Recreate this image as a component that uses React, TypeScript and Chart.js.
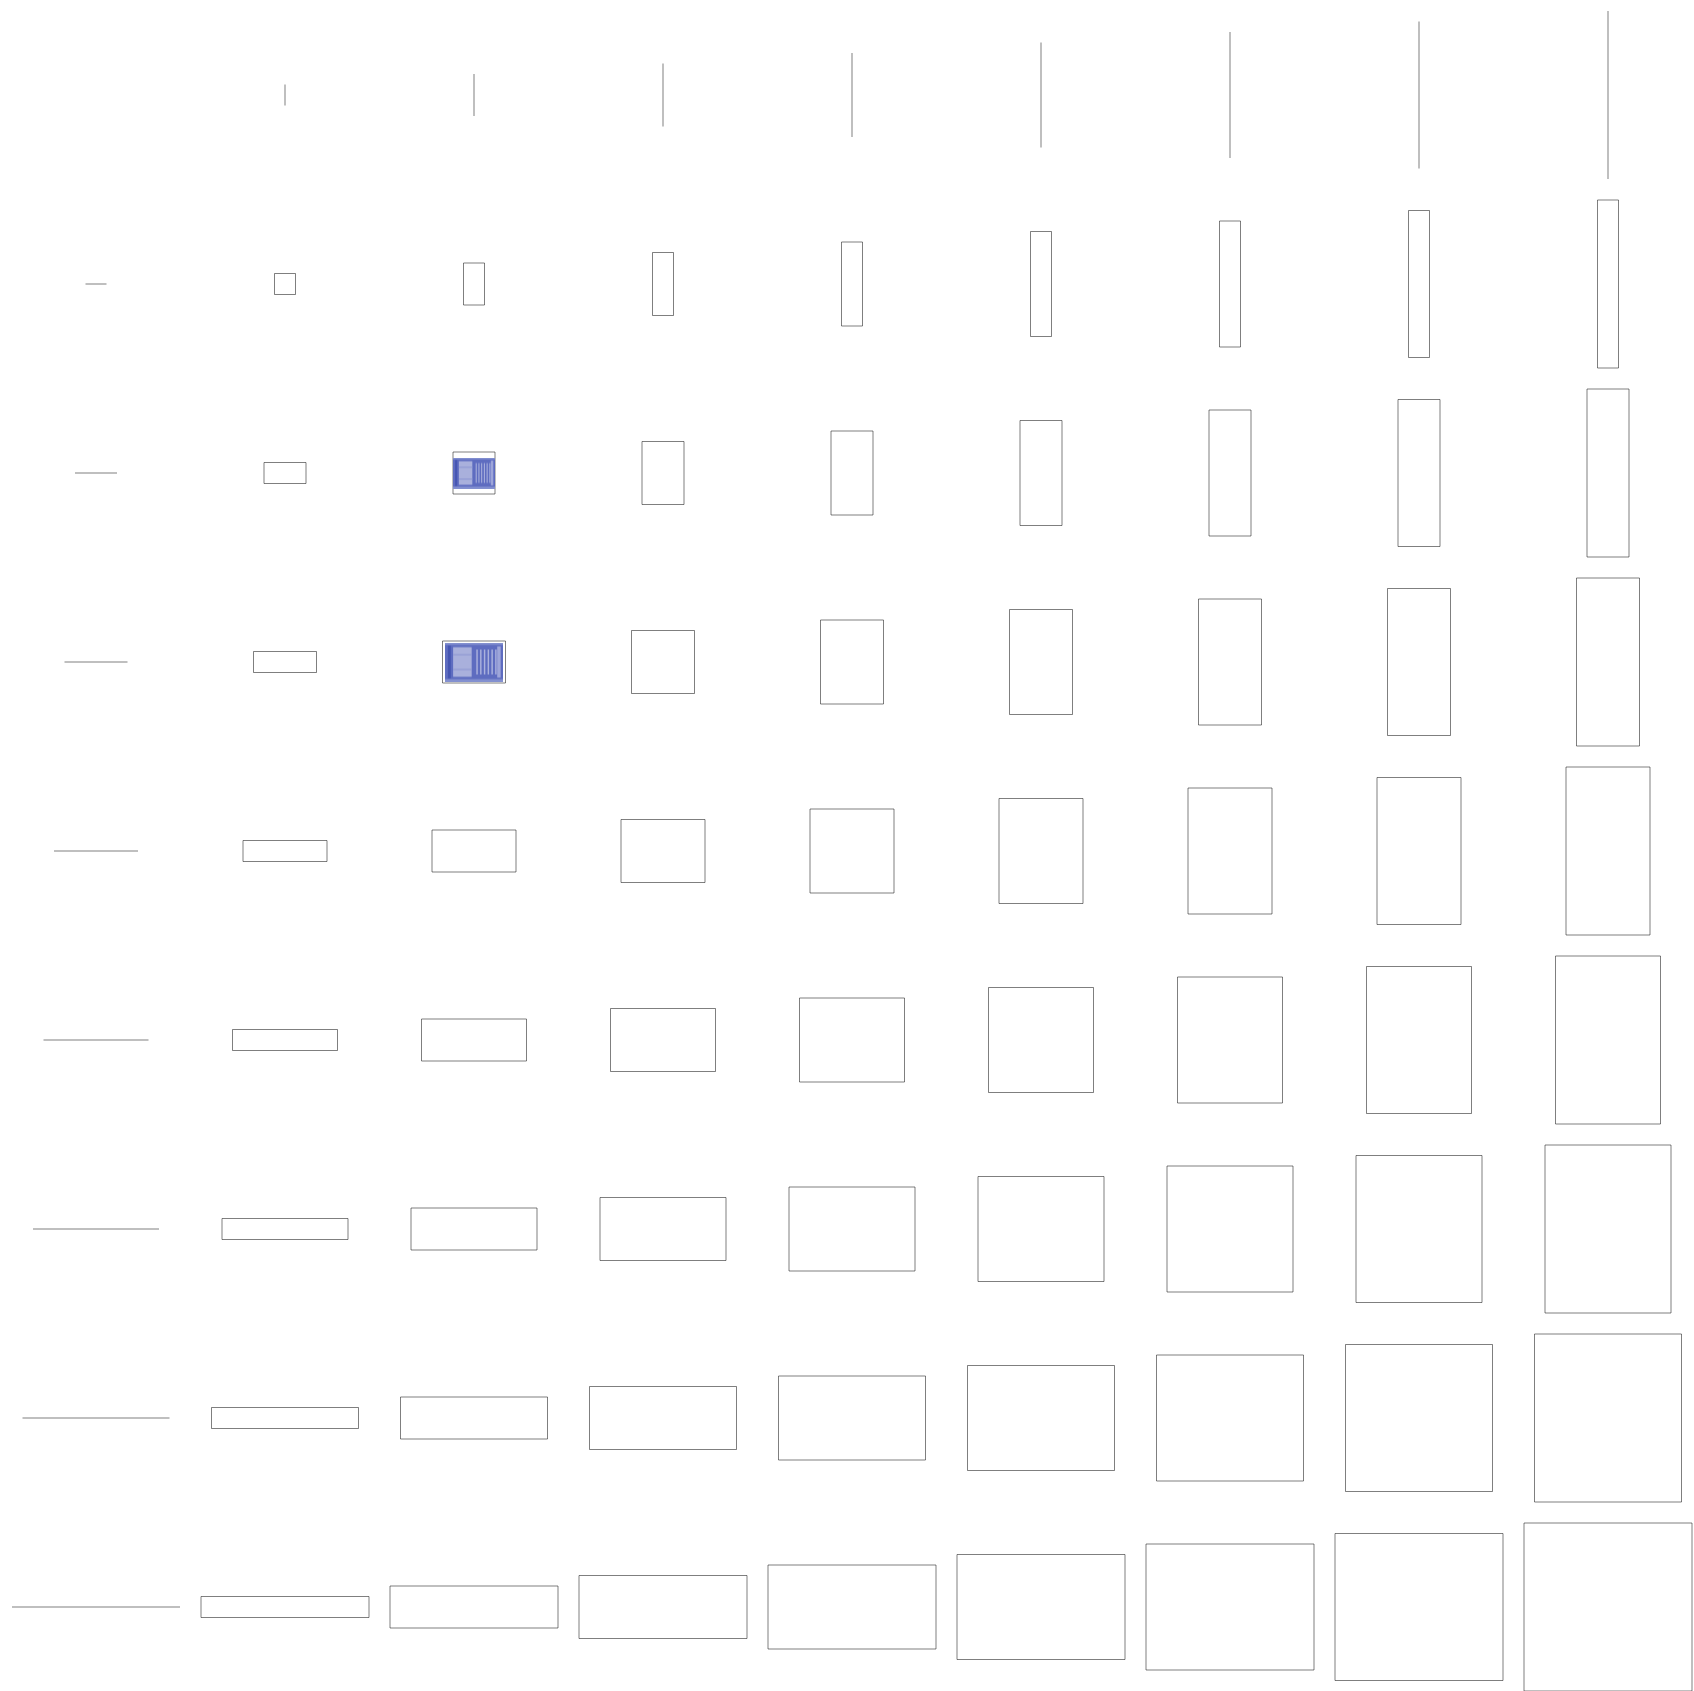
import React, { useEffect, useRef } from 'react';
import { Chart, registerables } from 'chart.js';

Chart.register(...registerables);

// Grid positions (column index along x, row index along y)
const gridColumns = [0, 1, 2, 3, 4, 5, 6, 7, 8];
const gridRows = [0, 1, 2, 3, 4, 5, 6, 7, 8];
// Box height level for each column, box width level for each row
const columnHeightSteps = [0, 1, 2, 3, 4, 5, 6, 7, 8];
const rowWidthSteps = [0, 1, 2, 3, 4, 5, 6, 7, 8];
// Cells that also carry an image marker
const imageCellColumns = [2, 2];
const imageCellRows = [2, 3];

// ---- styles ----
const STEP_PX = 21;
const CELL_PX = 189;
const OFFSET_X_PX = 96;
const OFFSET_Y_PX = 95;
const CANVAS_PX = 1701;
const STROKE = 'rgba(0,0,0,0.5)';
const LINE_FILL = 'rgba(0,0,0,0.25)';
const IMAGE_SIZES: [number, number][] = [
  [42, 31],
  [58, 39],
];

function makeRectStyle(w: number, h: number): HTMLCanvasElement {
  const W = w % 2 === 0 ? w + 2 : w + 3;
  const H = h % 2 === 0 ? h + 2 : h + 3;
  const c = document.createElement('canvas');
  c.width = W;
  c.height = H;
  const ctx = c.getContext('2d')!;
  if (w > 0 && h > 0) {
    ctx.strokeStyle = STROKE;
    ctx.lineWidth = 1;
    ctx.beginPath();
    ctx.rect(W / 2 - w / 2, H / 2 - h / 2, w, h);
    ctx.stroke();
  } else if (w === 0 && h > 0) {
    ctx.fillStyle = LINE_FILL;
    ctx.fillRect(W / 2 - 1, H / 2 - h / 2, 2, h);
  } else if (h === 0 && w > 0) {
    ctx.fillStyle = LINE_FILL;
    ctx.fillRect(W / 2 - w / 2, H / 2 - 1, w, 2);
  }
  return c;
}

function makeImageStyle(w: number, h: number): HTMLCanvasElement {
  const c = document.createElement('canvas');
  c.width = w;
  c.height = h;
  const ctx = c.getContext('2d')!;
  ctx.fillStyle = '#5e6cc0';
  ctx.fillRect(0, 0, w, h);
  ctx.fillStyle = '#8390d0';
  ctx.fillRect(0, 0, w, Math.max(1, h * 0.06));
  ctx.fillRect(0, h - Math.max(1, h * 0.06), w, Math.max(1, h * 0.06));
  // left panel
  ctx.fillStyle = '#a9b0dc';
  ctx.fillRect(w * 0.14, h * 0.12, w * 0.32, h * 0.76);
  ctx.fillStyle = '#8c95d2';
  ctx.fillRect(w * 0.14, h * 0.3, w * 0.32, 1);
  ctx.fillRect(w * 0.14, h * 0.68, w * 0.32, 1);
  ctx.fillStyle = '#4656b2';
  ctx.fillRect(w * 0.05, h * 0.08, Math.max(1, w * 0.05), h * 0.84);
  // right stripes
  ctx.fillStyle = '#aab1dd';
  for (let i = 0; i < 6; i++) {
    ctx.fillRect(w * (0.54 + i * 0.065), h * 0.18, Math.max(1, w * 0.025), h * 0.64);
  }
  ctx.fillStyle = '#9ea6da';
  ctx.fillRect(w * 0.9, h * 0.1, w * 0.06, h * 0.8);
  return c;
}

export default function App() {
  const canvasRef = useRef<HTMLCanvasElement | null>(null);

  useEffect(() => {
    if (!canvasRef.current) return;

    const boxPoints: { x: number; y: number }[] = [];
    const boxStyles: HTMLCanvasElement[] = [];
    gridRows.forEach((r, ri) => {
      gridColumns.forEach((c, ci) => {
        boxPoints.push({ x: c, y: r });
        boxStyles.push(
          makeRectStyle(rowWidthSteps[ri] * STEP_PX, columnHeightSteps[ci] * STEP_PX)
        );
      });
    });

    const imagePoints = imageCellColumns.map((c, i) => ({ x: c, y: imageCellRows[i] }));
    const imageStyles = IMAGE_SIZES.map(([w, h]) => makeImageStyle(w, h));

    const xMin = -OFFSET_X_PX / CELL_PX;
    const xMax = (CANVAS_PX - OFFSET_X_PX) / CELL_PX;
    const yMin = -OFFSET_Y_PX / CELL_PX;
    const yMax = (CANVAS_PX - OFFSET_Y_PX) / CELL_PX;

    const chart = new Chart(canvasRef.current, {
      type: 'scatter',
      data: {
        datasets: [
          {
            label: 'images',
            data: imagePoints,
            pointStyle: imageStyles as any,
            pointRadius: 1,
            pointHoverRadius: 1,
            pointBorderWidth: 0,
            borderWidth: 0,
            order: 0,
            clip: false as any,
          },
          {
            label: 'boxes',
            data: boxPoints,
            pointStyle: boxStyles as any,
            pointRadius: 1,
            pointHoverRadius: 1,
            pointBorderWidth: 0,
            borderWidth: 0,
            order: 1,
            clip: false as any,
          },
        ],
      },
      options: {
        animation: false,
        responsive: false,
        events: [],
        layout: { padding: 0, autoPadding: false },
        plugins: {
          legend: { display: false },
          tooltip: { enabled: false },
          title: { display: false },
        },
        scales: {
          x: { type: 'linear', display: false, min: xMin, max: xMax, bounds: 'data' },
          y: { type: 'linear', display: false, min: yMin, max: yMax, reverse: true, bounds: 'data' },
        },
      },
    });

    return () => chart.destroy();
  }, []);

  return (
    <div
      style={{
        position: 'fixed',
        left: 0,
        top: 0,
        width: '100vw',
        height: '100vh',
        overflow: 'hidden',
        background: '#ffffff',
      }}
    >
      <canvas
        ref={canvasRef}
        width={CANVAS_PX}
        height={CANVAS_PX}
        style={{ display: 'block', width: CANVAS_PX, height: CANVAS_PX }}
      />
    </div>
  );
}
